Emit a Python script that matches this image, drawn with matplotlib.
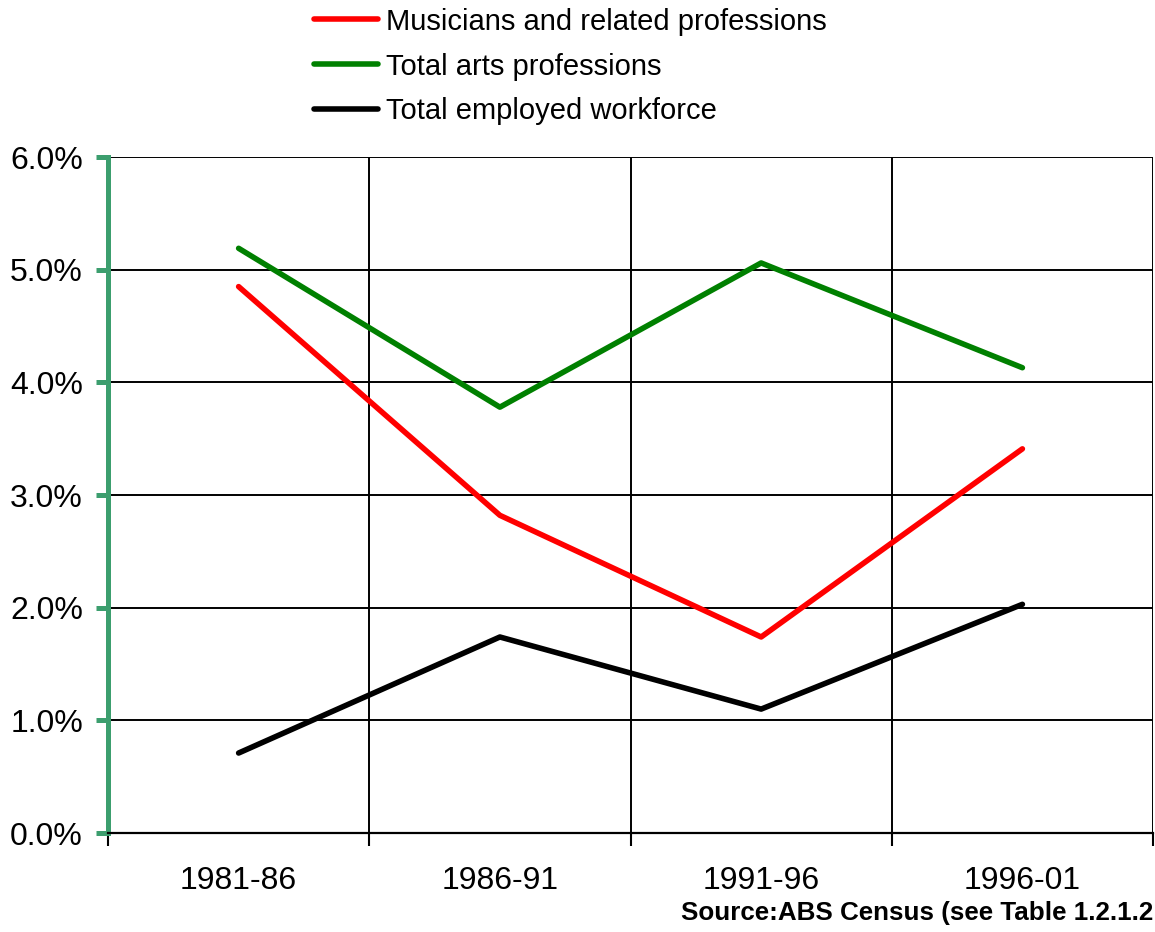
import numpy as np
import matplotlib.pyplot as plt
from matplotlib.ticker import FixedLocator, PercentFormatter

plt.rcParams['font.family'] = ['Liberation Sans', 'DejaVu Sans']

periods = ['1981-86', '1986-91', '1991-96', '1996-01']
musicians = [4.85, 2.82, 1.74, 3.41]
arts = [5.19, 3.78, 5.06, 4.13]
workforce = [0.71, 1.74, 1.10, 2.03]

fig = plt.figure(figsize=(11.55, 9.32), dpi=100)
ax = fig.add_axes([0.0935, 0.1062, 0.9048, 0.7253])

x = np.arange(len(periods)) + 0.5
l1, = ax.plot(x, musicians, color='#ff0000', lw=4, solid_capstyle='round')
l2, = ax.plot(x, arts, color='#008000', lw=4, solid_capstyle='round')
l3, = ax.plot(x, workforce, color='black', lw=4, solid_capstyle='round')

ax.set_xlim(0, len(periods))
ax.set_ylim(0, 6)

# boundaries carry ticks and gridlines, centres carry labels
ax.xaxis.set_major_locator(FixedLocator(np.arange(len(periods) + 1)))
ax.xaxis.set_minor_locator(FixedLocator(x))
ax.set_xticklabels([], minor=False)
ax.set_xticklabels(periods, minor=True)
ax.tick_params(axis='x', which='major', direction='out', length=9, width=1.5, color='black')
ax.tick_params(axis='x', which='minor', length=0, pad=24, labelsize=23)

ax.set_yticks(np.arange(0, 7, 1))
ax.yaxis.set_major_formatter(PercentFormatter(decimals=1))
ax.tick_params(axis='y', direction='out', length=9, width=3.6, color='#3c9e6e',
               pad=9, labelsize=23)

ax.grid(True, which='major', color='black', lw=1.4)
ax.set_axisbelow(True)

for s in ['top', 'right']:
    ax.spines[s].set_visible(False)
ax.spines['left'].set_color('#3c9e6e')
ax.spines['left'].set_linewidth(3.6)
ax.spines['bottom'].set_linewidth(1.6)

fig.legend([l1, l2, l3],
           ['Musicians and related professions', 'Total arts professions', 'Total employed workforce'],
           loc='upper left', bbox_to_anchor=(0.249, 1.02), frameon=False, fontsize=21,
           handlelength=2.2, handletextpad=0.28, labelspacing=0.58)

fig.text(0.9983, 0.013, 'Source:ABS Census (see Table 1.2.1.2', ha='right', va='baseline',
         fontsize=18.7, fontweight='bold')

fig.savefig('out.png', dpi=100)
